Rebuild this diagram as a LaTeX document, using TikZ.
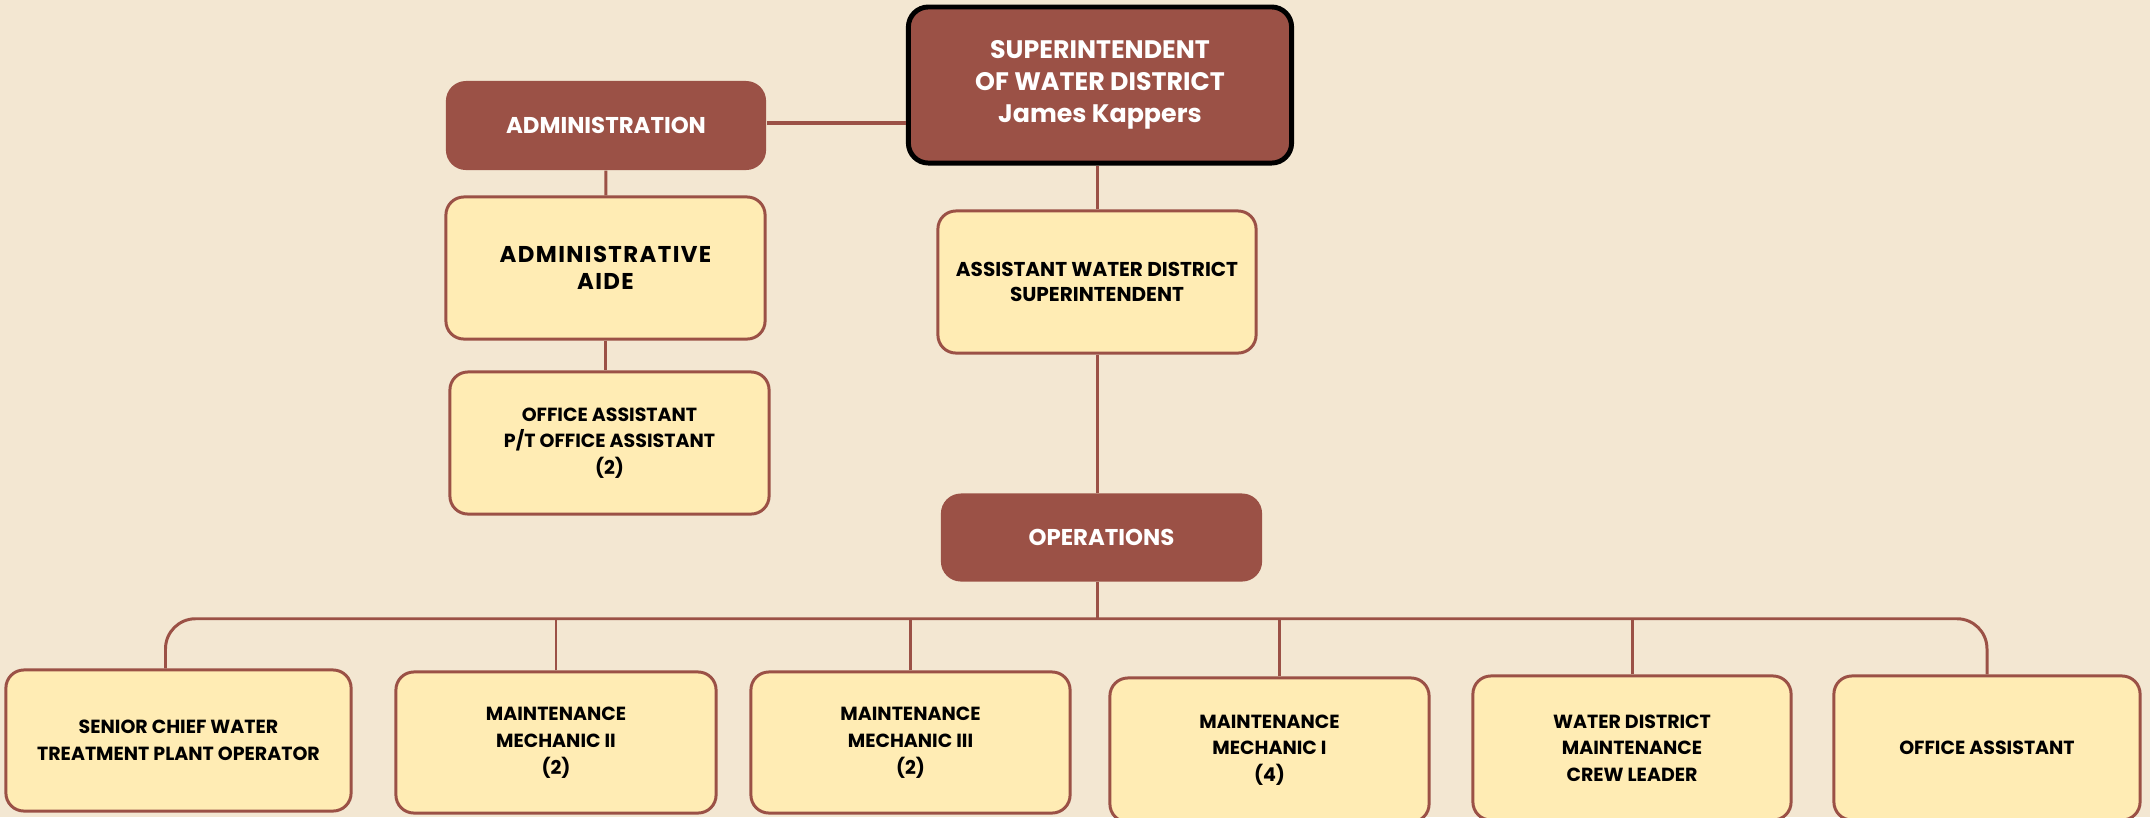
\documentclass[tikz,border=0pt]{standalone}
\usepackage{fontspec}
\setmainfont{Poppins}
\usetikzlibrary{calc}
\definecolor{paper}{RGB}{243,231,210}
\definecolor{brick}{RGB}{155,81,70}
\definecolor{butter}{RGB}{255,236,180}
\tikzset{
  link/.style={
    draw=brick,
    line width=0.85pt
  },
  head-box/.style={
    rounded corners=0.2cm,
    fill=brick,
    text=white,
    align=center,
    inner sep=0pt,
    font=\bfseries\fontsize{6.5}{9}\selectfont
  },
  head-top/.style={
    head-box,
    draw=black,
    line width=1.4pt,
    font=\bfseries\fontsize{7.2}{9.1}\selectfont
  },
  post-box/.style={
    rounded corners=0.18cm,
    fill=butter,
    draw=brick,
    line width=0.85pt,
    align=center,
    inner sep=0pt,
    font=\bfseries\fontsize{5.4}{7.6}\selectfont
  },
  post-wide/.style={post-box, font=\bfseries\fontsize{6.5}{7.6}\selectfont\addfontfeature{LetterSpace=6}},
  post-mid/.style={post-box, font=\bfseries\fontsize{5.7}{7.2}\selectfont}
}

\begin{document}
\begin{tikzpicture}[x=0.01cm,y=-0.01cm]
  \fill[paper] (0,0) rectangle (2150,817);
  \useasboundingbox (0,0) rectangle (2150,817);
  % Top of the chart
  \node[head-top, minimum width=3.83cm, minimum height=1.56cm] (super) at (1100,85)
    {SUPERINTENDENT\\OF WATER DISTRICT\\James Kappers};
  \node[head-box, minimum width=3.2cm, minimum height=0.89cm] (admin) at (606,125.5) {ADMINISTRATION};
  \node[post-wide, minimum width=3.19cm, minimum height=1.42cm] (aide) at (605.5,268) {ADMINISTRATIVE\\AIDE};
  \node[post-box, minimum width=3.19cm, minimum height=1.42cm] (offpt) at (609.5,443)
    {OFFICE ASSISTANT\\P/T OFFICE ASSISTANT\\(2)};
  \node[post-mid, minimum width=3.18cm, minimum height=1.42cm] (asst) at (1097,282)
    {ASSISTANT WATER DISTRICT\\SUPERINTENDENT};
  \node[head-box, minimum width=3.21cm, minimum height=0.88cm] (ops) at (1101.5,537.5) {OPERATIONS};
  % Bottom row
  \node[post-box, minimum width=3.45cm, minimum height=1.41cm] (senior) at (178.5,740.5)
    {SENIOR CHIEF WATER\\TREATMENT PLANT OPERATOR};
  \node[post-box, minimum width=3.2cm, minimum height=1.41cm] (mech2) at (556,742.5)
    {MAINTENANCE\\MECHANIC II\\(2)};
  \node[post-box, minimum width=3.19cm, minimum height=1.41cm] (mech3) at (910.5,742.5)
    {MAINTENANCE\\MECHANIC III\\(2)};
  \node[post-box, minimum width=3.19cm, minimum height=1.44cm] (mech1) at (1269.5,750)
    {MAINTENANCE\\MECHANIC I\\(4)};
  \node[post-box, minimum width=3.18cm, minimum height=1.44cm] (crew) at (1632,748)
    {WATER DISTRICT\\MAINTENANCE\\CREW LEADER};
  \node[post-box, minimum width=3.06cm, minimum height=1.44cm] (office) at (1987,748) {OFFICE ASSISTANT};
  % Connectors
  \coordinate (ops-foot) at (asst.south |- ops.south);
  \coordinate (bus) at ($(ops-foot)+(0,36.5)$);
  \coordinate (senior-top) at ($(senior.north)+(-13,0)$);
  \coordinate (mech1-top) at ($(mech1.north)+(10,0)$);
  \draw[link, line width=1.1pt] (admin.east |- 0,123) -- (super.west |- 0,123);
  \draw[link] (admin) -- (aide);
  \draw[link] (aide.south) -- (aide.south |- offpt.north);
  \draw[link] (asst.north |- super.south) -- (asst.north);
  \draw[link] (asst.south) -- (asst.south |- ops.north);
  \draw[link] (ops-foot) -- (bus);
  \draw[link, rounded corners=0.3cm] (senior-top) |- (bus) -| (office.north);
  \draw[link] (mech2.north) -- (mech2.north |- bus);
  \draw[link] (mech3.north) -- (mech3.north |- bus);
  \draw[link] (mech1-top) -- (mech1-top |- bus);
  \draw[link] (crew.north) -- (crew.north |- bus);
\end{tikzpicture}
\end{document}
